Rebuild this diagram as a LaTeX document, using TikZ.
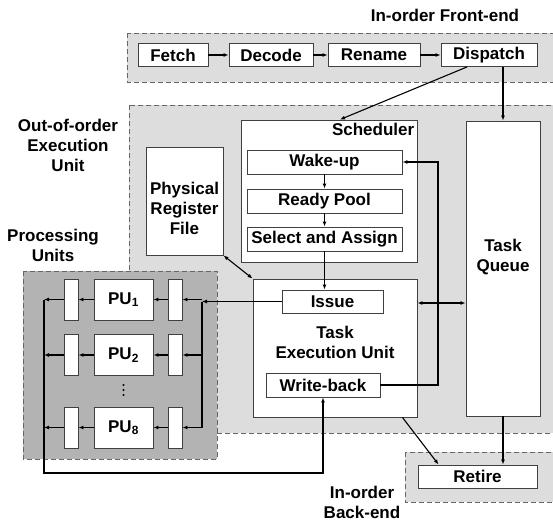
\documentclass[tikz,border=0pt]{standalone}
\usepackage{fontspec}
\setmainfont{Liberation Sans}
\usetikzlibrary{arrows.meta}
\definecolor{lightbg}{HTML}{DDDDDD}
\definecolor{darkbg}{HTML}{B3B3B3}
\definecolor{edge}{HTML}{404040}
\begin{document}
\begin{tikzpicture}[x=1pt,y=-1pt,
 font=\fontsize{17}{20}\selectfont\bfseries,
 region/.style={draw=black!60,dash pattern=on 5pt off 3pt,line width=0.8pt},
 blk/.style={draw=edge,fill=white,line width=0.9pt,inner sep=0pt},
 conn/.style={line width=1.1pt,-{Latex[length=5pt,width=4pt]}},
 both/.style={line width=1.1pt,{Latex[length=5pt,width=4pt]}-{Latex[length=5pt,width=4pt]}}]
\useasboundingbox (0,0) rectangle (553,524);
% regions
\draw[region,fill=lightbg] (127,33) rectangle (560,82);
\draw[region,fill=lightbg] (129,105) rectangle (560,433);
\draw[region,fill=lightbg] (405,452) rectangle (560,502);
\draw[region,fill=darkbg] (23,271) rectangle (217,459);
\node (felabel) at (445,15) {In-order Front-end};
\node[align=center] (oolabel) at (68,145) {Out-of-order\\Execution\\Unit};
\node[align=center] (pulabel) at (53,245) {Processing\\Units};
\node[align=center] (belabel) at (362,502) {In-order\\Back-end};
% front-end
\node[blk,minimum width=70pt,minimum height=23pt] (fetch) at (173,55) {Fetch};
\node[blk,minimum width=84pt,minimum height=23pt] (decode) at (271,55) {Decode};
\node[blk,minimum width=92pt,minimum height=23pt] (rename) at (374,55) {Rename};
\node[blk,minimum width=96pt,minimum height=23pt] (dispatch) at (489,55) {Dispatch};
\draw[conn] (fetch) -- (decode);
\draw[conn] (decode) -- (rename);
\draw[conn] (rename) -- (dispatch);
% out-of-order execution unit
\node[blk,minimum width=176pt,minimum height=142pt,
 label={[anchor=north east,inner sep=3pt]north east:Scheduler}] (sched) at (329,191) {};
\node[blk,minimum width=155pt,minimum height=24pt] (wake) at (324.5,162) {Wake-up};
\node[blk,minimum width=155pt,minimum height=24pt] (ready) at (324.5,201) {Ready Pool};
\node[blk,minimum width=155pt,minimum height=24pt] (select) at (324.5,239) {Select and Assign};
\node[blk,minimum width=77pt,minimum height=108pt,
 label={[align=center,yshift=-7pt]center:Physical\\Register\\File}] (prf) at (184.5,201) {};
\node[blk,minimum width=74pt,minimum height=295pt,
 label={[align=center,yshift=11pt]center:Task\\Queue}] (queue) at (503,268.5) {};
\node[blk,minimum width=164pt,minimum height=138pt,
 label={[align=center,yshift=6pt]center:Task\\Execution Unit}] (teu) at (335,348) {};
\node[blk,minimum width=101pt,minimum height=23pt] (issue) at (332.5,301.5) {Issue};
\node[blk,minimum width=114pt,minimum height=24pt] (wb) at (323,385) {Write-back};
\node[blk,minimum width=119pt,minimum height=23pt] (retire) at (477.5,476.5) {Retire};
\coordinate (fb) at (438,0);
\draw[conn] ([xshift=-22pt]dispatch.south) -- ([xshift=11pt]sched.north);
\draw[conn] (dispatch.south -| queue.north) -- (queue.north);
\draw[conn] (wake) -- (ready);
\draw[conn] (ready) -- (select);
\draw[conn] (select.south) -- (select.south |- issue.north);
\draw[conn] (wb.east) -- (wb.east -| fb) |- (wake.east);
\draw[both] (teu.east |- 0,303) -- (queue.west |- 0,303);
\draw[both] (prf.south east) -- (teu.north west);
\draw[conn] ([xshift=-15pt]teu.south east) -- ([xshift=21pt]retire.north west);
\draw[conn] (queue.south) -- (queue.south |- retire.north);
% processing units
\coordinate (rbus) at (202,0);
\coordinate (lbus) at (44,0);
\foreach \i/\y in {1/299.5,2/355,8/427.5}{
 \node[blk,minimum width=59pt,minimum height=41pt] (pu\i) at (123.5,\y) {PU\textsubscript{\i}};
 \node[blk,minimum width=14pt,minimum height=41pt] (in\i) at (175,\y) {};
 \node[blk,minimum width=14pt,minimum height=41pt] (out\i) at (71,\y) {};
 \draw[conn] (in\i.east -| rbus) -- (in\i.east);
 \draw[conn] (in\i.west) -- (pu\i.east);
 \draw[conn] (pu\i.west) -- (out\i.east);
 \draw[conn] (out\i.west) -- (out\i.west -| lbus);
}
\foreach \d in {385,390,395}
 \fill (123.5,\d) circle (1.1pt); % dots between PU2 and PU8
\draw[conn] (issue.west) -- (issue.west -| rbus);
\draw[line width=1.1pt] (issue.west -| rbus) -- (in8.east -| rbus);
\coordinate (ret) at (44,473);
\draw[conn] (out1.west -| lbus) -- (ret) -| (wb.south);
\end{tikzpicture}
\end{document}
